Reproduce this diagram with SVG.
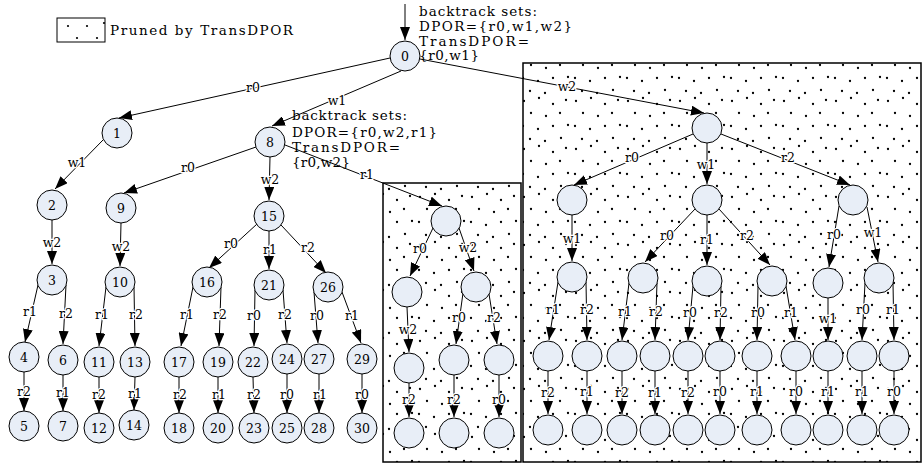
<svg xmlns="http://www.w3.org/2000/svg" width="923" height="464" viewBox="0 0 923 464">
<style>
.n circle{fill:#e8eef7;stroke:#000;stroke-width:1}
.n text{font-family:"DejaVu Serif","Liberation Serif",serif;font-size:12.5px;text-anchor:middle;fill:#000}
.e{fill:none;stroke:#000;stroke-width:1;marker-end:url(#ah)}
.l{font-family:"DejaVu Serif","Liberation Serif",serif;font-size:12.5px;text-anchor:middle;fill:#000;paint-order:stroke;stroke:#fff;stroke-width:2.5px;stroke-linejoin:round}
.t{font-family:"DejaVu Serif","Liberation Serif",serif;font-size:13.5px;fill:#000}
.box{fill:url(#dots);stroke:#000;stroke-width:1.5}
</style>
<defs>
<marker id="ah" markerUnits="userSpaceOnUse" markerWidth="13" markerHeight="10" refX="13" refY="5" orient="auto">
<path d="M0,0 L13,5 L0,10 z" fill="#000"/>
</marker>
<pattern id="dots" patternUnits="userSpaceOnUse" width="52" height="48">
<rect width="52" height="48" fill="#fff"/>
<g fill="#000">
<circle cx="4" cy="5" r="1.15"/><circle cx="19" cy="2" r="1.15"/><circle cx="33" cy="8" r="1.15"/><circle cx="46" cy="4" r="1.15"/>
<circle cx="11" cy="17" r="1.15"/><circle cx="26" cy="20" r="1.15"/><circle cx="40" cy="17" r="1.15"/>
<circle cx="3" cy="30" r="1.15"/><circle cx="18" cy="33" r="1.15"/><circle cx="33" cy="30" r="1.15"/><circle cx="48" cy="29" r="1.15"/>
<circle cx="10" cy="43" r="1.15"/><circle cx="25" cy="45" r="1.15"/><circle cx="41" cy="42" r="1.15"/>
</g>
</pattern>
</defs>
<rect width="923" height="464" fill="#fff"/>

<g id="legend">
<rect x="57" y="18" width="48" height="24" fill="#fff" stroke="#000" stroke-width="1"/>
<g fill="#000"><circle cx="68" cy="26" r="1.1"/><circle cx="87" cy="26" r="1.1"/><circle cx="104" cy="23" r="1.1"/><circle cx="77" cy="38" r="1.1"/><circle cx="97" cy="38" r="1.1"/></g>
<text class="t" x="110" y="34.5" textLength="183" lengthAdjust="spacing">Pruned by TransDPOR</text>
</g>

<g id="pruned-boxes">
<rect class="box" x="383" y="183" width="138" height="279"/>
<rect class="box" x="523" y="63" width="398" height="399"/>
</g>

<g id="annotations">
<text class="t" x="419" y="15.5" textLength="118" lengthAdjust="spacing">backtrack sets:</text>
<text class="t" x="419" y="31" textLength="153" lengthAdjust="spacing">DPOR={r0,w1,w2}</text>
<text class="t" x="419" y="45.5" textLength="110" lengthAdjust="spacing">TransDPOR=</text>
<text class="t" x="419" y="60" textLength="60" lengthAdjust="spacing">{r0,w1}</text>
<text class="t" x="292" y="119.5" textLength="115" lengthAdjust="spacing">backtrack sets:</text>
<text class="t" x="292" y="136.5" textLength="145" lengthAdjust="spacing">DPOR={r0,w2,r1}</text>
<text class="t" x="292" y="152" textLength="108" lengthAdjust="spacing">TransDPOR=</text>
<text class="t" x="292" y="167" textLength="58" lengthAdjust="spacing">{r0,w2}</text>
</g>

<g id="connectors">
<path class="e" d="M405,4 L405,40"/>
<path class="e" d="M390,58 L119,118"/>
<path class="e" d="M401,71 L272,126"/>
<path class="e" d="M420,59 L704,113"/>
<path class="e" d="M103,140 L55,189"/>
<path class="e" d="M52,220 L52,264"/>
<path class="e" d="M256,147 L124,193"/>
<path class="e" d="M270,157 L269,200"/>
<path class="e" d="M285,145 L442,206"/>
<path class="e" d="M121,223 L120,266"/>
<path class="e" d="M257,224 L209,268"/>
<path class="e" d="M269,231 L269,269"/>
<path class="e" d="M281,225 L326,273"/>
<path class="e" d="M38,285 L25,342"/>
<path class="e" d="M66,285 L63,344"/>
<path class="e" d="M106,287 L99,346"/>
<path class="e" d="M134,287 L135,346"/>
<path class="e" d="M193,287 L181,346"/>
<path class="e" d="M221,287 L219,346"/>
<path class="e" d="M255,290 L254,346"/>
<path class="e" d="M283,290 L287,343"/>
<path class="e" d="M314,292 L318,343"/>
<path class="e" d="M342,292 L361,343"/>
<path class="e" d="M24,372 L24,411"/>
<path class="e" d="M63,375 L63,411"/>
<path class="e" d="M99,377 L99,413"/>
<path class="e" d="M135,377 L134,410"/>
<path class="e" d="M179,377 L179,413"/>
<path class="e" d="M218,377 L218,413"/>
<path class="e" d="M253,377 L254,413"/>
<path class="e" d="M287,374 L287,413"/>
<path class="e" d="M319,374 L319,413"/>
<path class="e" d="M362,374 L362,413"/>
<path class="e" d="M433,228 L410,276"/>
<path class="e" d="M459,228 L474,271"/>
<path class="e" d="M407,307 L409,352"/>
<path class="e" d="M463,293 L456,344"/>
<path class="e" d="M489,294 L497,344"/>
<path class="e" d="M409,383 L409,417"/>
<path class="e" d="M454,375 L454,417"/>
<path class="e" d="M499,375 L499,417"/>
<path class="e" d="M693,134 L574,185"/>
<path class="e" d="M707,143 L707,184"/>
<path class="e" d="M721,134 L850,185"/>
<path class="e" d="M572,215 L572,261"/>
<path class="e" d="M695,209 L645,262"/>
<path class="e" d="M707,215 L707,265"/>
<path class="e" d="M719,209 L770,265"/>
<path class="e" d="M839,206 L829,267"/>
<path class="e" d="M867,207 L878,262"/>
<path class="e" d="M558,282 L549,340"/>
<path class="e" d="M586,282 L587,340"/>
<path class="e" d="M629,283 L622,340"/>
<path class="e" d="M657,283 L655,340"/>
<path class="e" d="M693,286 L688,340"/>
<path class="e" d="M721,286 L720,340"/>
<path class="e" d="M758,286 L757,340"/>
<path class="e" d="M786,286 L795,340"/>
<path class="e" d="M828,298 L828,340"/>
<path class="e" d="M865,283 L862,340"/>
<path class="e" d="M893,283 L894,340"/>
<path class="e" d="M548,371 L548,414"/>
<path class="e" d="M587,371 L587,414"/>
<path class="e" d="M622,371 L622,414"/>
<path class="e" d="M655,371 L655,414"/>
<path class="e" d="M688,371 L688,414"/>
<path class="e" d="M720,371 L720,414"/>
<path class="e" d="M757,371 L757,414"/>
<path class="e" d="M796,371 L796,414"/>
<path class="e" d="M828,371 L828,414"/>
<path class="e" d="M862,371 L862,414"/>
<path class="e" d="M894,371 L894,414"/>
<g id="edge-labels">
<text class="l" x="253" y="92">r0</text>
<text class="l" x="337" y="105">w1</text>
<text class="l" x="567" y="91">w2</text>
<text class="l" x="77" y="167">w1</text>
<text class="l" x="52" y="247">w2</text>
<text class="l" x="188" y="172">r0</text>
<text class="l" x="270" y="184">w2</text>
<text class="l" x="367" y="179">r1</text>
<text class="l" x="121" y="251">w2</text>
<text class="l" x="231" y="248">r0</text>
<text class="l" x="270" y="254">r1</text>
<text class="l" x="308" y="252">r2</text>
<text class="l" x="30" y="316">r1</text>
<text class="l" x="66" y="318">r2</text>
<text class="l" x="102" y="319">r1</text>
<text class="l" x="136" y="319">r2</text>
<text class="l" x="187" y="319">r1</text>
<text class="l" x="220" y="319">r2</text>
<text class="l" x="254" y="320">r0</text>
<text class="l" x="285" y="319">r2</text>
<text class="l" x="317" y="320">r0</text>
<text class="l" x="352" y="320">r1</text>
<text class="l" x="24" y="396">r2</text>
<text class="l" x="63" y="397">r1</text>
<text class="l" x="99" y="399">r2</text>
<text class="l" x="135" y="398">r1</text>
<text class="l" x="180" y="399">r2</text>
<text class="l" x="219" y="399">r1</text>
<text class="l" x="254" y="399">r2</text>
<text class="l" x="287" y="399">r0</text>
<text class="l" x="320" y="399">r1</text>
<text class="l" x="362" y="399">r0</text>
<text class="l" x="420" y="253">r0</text>
<text class="l" x="468" y="252">w2</text>
<text class="l" x="408" y="334">w2</text>
<text class="l" x="459" y="322">r0</text>
<text class="l" x="494" y="322">r2</text>
<text class="l" x="409" y="404">r2</text>
<text class="l" x="454" y="404">r2</text>
<text class="l" x="499" y="404">r0</text>
<text class="l" x="632" y="162">r0</text>
<text class="l" x="706" y="169">w1</text>
<text class="l" x="788" y="162">r2</text>
<text class="l" x="572" y="243">w1</text>
<text class="l" x="667" y="240">r0</text>
<text class="l" x="707" y="244">r1</text>
<text class="l" x="747" y="240">r2</text>
<text class="l" x="834" y="239">r0</text>
<text class="l" x="873" y="237">w1</text>
<text class="l" x="553" y="314">r1</text>
<text class="l" x="587" y="314">r2</text>
<text class="l" x="625" y="316">r1</text>
<text class="l" x="656" y="316">r2</text>
<text class="l" x="690" y="317">r0</text>
<text class="l" x="721" y="317">r2</text>
<text class="l" x="758" y="317">r0</text>
<text class="l" x="791" y="317">r1</text>
<text class="l" x="828" y="323">w1</text>
<text class="l" x="863" y="314">r0</text>
<text class="l" x="893" y="314">r1</text>
<text class="l" x="548" y="397">r2</text>
<text class="l" x="587" y="396">r1</text>
<text class="l" x="622" y="397">r2</text>
<text class="l" x="655" y="397">r1</text>
<text class="l" x="688" y="397">r2</text>
<text class="l" x="720" y="396">r0</text>
<text class="l" x="757" y="396">r1</text>
<text class="l" x="796" y="396">r0</text>
<text class="l" x="828" y="396">r1</text>
<text class="l" x="862" y="396">r1</text>
<text class="l" x="894" y="396">r0</text>
</g>
</g>

<g id="n0" class="n"><circle cx="405" cy="56" r="15"/><text x="405" y="60.5">0</text></g>
<g id="n1" class="n"><circle cx="117" cy="133" r="15"/><text x="117" y="137.5">1</text></g>
<g id="n8" class="n"><circle cx="270" cy="142" r="15"/><text x="270" y="146.5">8</text></g>
<g id="n2" class="n"><circle cx="52" cy="205" r="15"/><text x="52" y="209.5">2</text></g>
<g id="n9" class="n"><circle cx="121" cy="208" r="15"/><text x="121" y="212.5">9</text></g>
<g id="n15" class="n"><circle cx="269" cy="216" r="15"/><text x="269" y="220.5">15</text></g>
<g id="n3" class="n"><circle cx="52" cy="280" r="15"/><text x="52" y="284.5">3</text></g>
<g id="n10" class="n"><circle cx="120" cy="282" r="15"/><text x="120" y="286.5">10</text></g>
<g id="n16" class="n"><circle cx="207" cy="282" r="15"/><text x="207" y="286.5">16</text></g>
<g id="n21" class="n"><circle cx="269" cy="285" r="15"/><text x="269" y="289.5">21</text></g>
<g id="n26" class="n"><circle cx="328" cy="287" r="15"/><text x="328" y="291.5">26</text></g>
<g id="n4" class="n"><circle cx="24" cy="357" r="15"/><text x="24" y="361.5">4</text></g>
<g id="n6" class="n"><circle cx="63" cy="360" r="15"/><text x="63" y="364.5">6</text></g>
<g id="n11" class="n"><circle cx="99" cy="362" r="15"/><text x="99" y="366.5">11</text></g>
<g id="n13" class="n"><circle cx="135" cy="362" r="15"/><text x="135" y="366.5">13</text></g>
<g id="n17" class="n"><circle cx="179" cy="362" r="15"/><text x="179" y="366.5">17</text></g>
<g id="n19" class="n"><circle cx="218" cy="362" r="15"/><text x="218" y="366.5">19</text></g>
<g id="n22" class="n"><circle cx="253" cy="362" r="15"/><text x="253" y="366.5">22</text></g>
<g id="n24" class="n"><circle cx="287" cy="359" r="15"/><text x="287" y="363.5">24</text></g>
<g id="n27" class="n"><circle cx="319" cy="359" r="15"/><text x="319" y="363.5">27</text></g>
<g id="n29" class="n"><circle cx="362" cy="359" r="15"/><text x="362" y="363.5">29</text></g>
<g id="n5" class="n"><circle cx="24" cy="426" r="15"/><text x="24" y="430.5">5</text></g>
<g id="n7" class="n"><circle cx="63" cy="426" r="15"/><text x="63" y="430.5">7</text></g>
<g id="n12" class="n"><circle cx="99" cy="428" r="15"/><text x="99" y="432.5">12</text></g>
<g id="n14" class="n"><circle cx="134" cy="425" r="15"/><text x="134" y="429.5">14</text></g>
<g id="n18" class="n"><circle cx="179" cy="428" r="15"/><text x="179" y="432.5">18</text></g>
<g id="n20" class="n"><circle cx="218" cy="428" r="15"/><text x="218" y="432.5">20</text></g>
<g id="n23" class="n"><circle cx="254" cy="428" r="15"/><text x="254" y="432.5">23</text></g>
<g id="n25" class="n"><circle cx="287" cy="428" r="15"/><text x="287" y="432.5">25</text></g>
<g id="n28" class="n"><circle cx="319" cy="428" r="15"/><text x="319" y="432.5">28</text></g>
<g id="n30" class="n"><circle cx="362" cy="428" r="15"/><text x="362" y="432.5">30</text></g>

<g id="m1" class="n"><circle cx="446" cy="221" r="15"/></g>
<g id="m2" class="n"><circle cx="407" cy="292" r="15"/></g>
<g id="m3" class="n"><circle cx="476" cy="287" r="15"/></g>
<g id="m4" class="n"><circle cx="409" cy="368" r="15"/></g>
<g id="m5" class="n"><circle cx="454" cy="360" r="15"/></g>
<g id="m6" class="n"><circle cx="499" cy="360" r="15"/></g>
<g id="m7" class="n"><circle cx="409" cy="433" r="15"/></g>
<g id="m8" class="n"><circle cx="454" cy="433" r="15"/></g>
<g id="m9" class="n"><circle cx="499" cy="433" r="15"/></g>

<g id="r0" class="n"><circle cx="707" cy="128" r="15"/></g>
<g id="r1" class="n"><circle cx="572" cy="200" r="15"/></g>
<g id="r2" class="n"><circle cx="707" cy="200" r="15"/></g>
<g id="r3" class="n"><circle cx="853" cy="200" r="15"/></g>
<g id="rA" class="n"><circle cx="572" cy="277" r="15"/></g>
<g id="rB" class="n"><circle cx="643" cy="278" r="15"/></g>
<g id="rC" class="n"><circle cx="707" cy="281" r="15"/></g>
<g id="rD" class="n"><circle cx="772" cy="281" r="15"/></g>
<g id="rE" class="n"><circle cx="828" cy="283" r="15"/></g>
<g id="rF" class="n"><circle cx="879" cy="278" r="15"/></g>
<g id="ra1" class="n"><circle cx="548" cy="356" r="15"/></g>
<g id="ra2" class="n"><circle cx="587" cy="356" r="15"/></g>
<g id="rb1" class="n"><circle cx="622" cy="356" r="15"/></g>
<g id="rb2" class="n"><circle cx="655" cy="356" r="15"/></g>
<g id="rc1" class="n"><circle cx="688" cy="356" r="15"/></g>
<g id="rc2" class="n"><circle cx="720" cy="356" r="15"/></g>
<g id="rd1" class="n"><circle cx="757" cy="356" r="15"/></g>
<g id="rd2" class="n"><circle cx="796" cy="356" r="15"/></g>
<g id="re1" class="n"><circle cx="828" cy="356" r="15"/></g>
<g id="rf1" class="n"><circle cx="862" cy="356" r="15"/></g>
<g id="rf2" class="n"><circle cx="894" cy="356" r="15"/></g>
<g id="ra1b" class="n"><circle cx="548" cy="430" r="15"/></g>
<g id="ra2b" class="n"><circle cx="587" cy="430" r="15"/></g>
<g id="rb1b" class="n"><circle cx="622" cy="430" r="15"/></g>
<g id="rb2b" class="n"><circle cx="655" cy="430" r="15"/></g>
<g id="rc1b" class="n"><circle cx="688" cy="430" r="15"/></g>
<g id="rc2b" class="n"><circle cx="720" cy="430" r="15"/></g>
<g id="rd1b" class="n"><circle cx="757" cy="430" r="15"/></g>
<g id="rd2b" class="n"><circle cx="796" cy="430" r="15"/></g>
<g id="re1b" class="n"><circle cx="828" cy="430" r="15"/></g>
<g id="rf1b" class="n"><circle cx="862" cy="430" r="15"/></g>
<g id="rf2b" class="n"><circle cx="894" cy="430" r="15"/></g>
</svg>
